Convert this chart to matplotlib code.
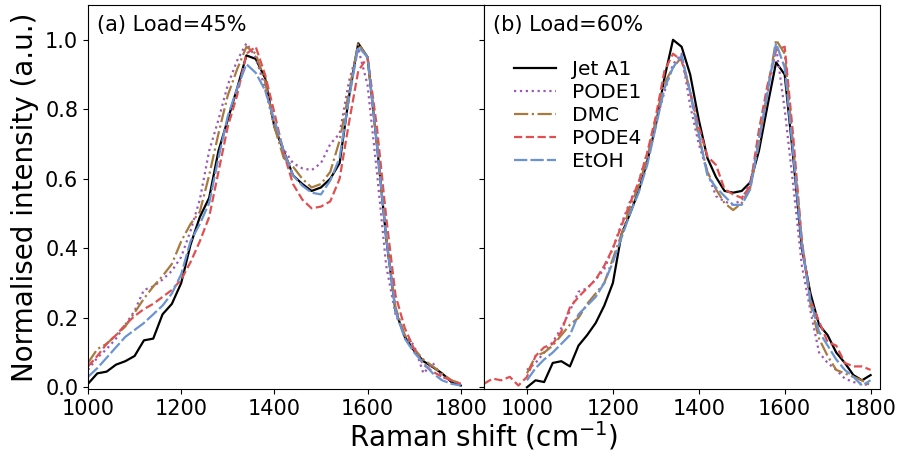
import matplotlib
matplotlib.use("Agg")
import matplotlib.pyplot as plt
import numpy as np

# Raman shift grid (cm^-1)
shift = np.arange(1000, 1801, 20)
shift_pode4_b = np.arange(900, 1801, 20)

# (a) Load = 45 %
jet_a = [0.01, 0.04, 0.045, 0.065, 0.075, 0.09, 0.135, 0.14, 0.21, 0.24, 0.30,
         0.41, 0.49, 0.545, 0.68, 0.77, 0.86, 0.955, 0.945, 0.89, 0.75, 0.68,
         0.61, 0.585, 0.565, 0.575, 0.60, 0.645, 0.835, 0.99, 0.95, 0.70, 0.43,
         0.22, 0.145, 0.105, 0.075, 0.058, 0.04, 0.015, 0.005]
pode1_a = [0.05, 0.085, 0.11, 0.14, 0.18, 0.22, 0.28, 0.29, 0.31, 0.335, 0.375,
           0.45, 0.54, 0.68, 0.77, 0.87, 0.94, 0.99, 0.95, 0.86, 0.75, 0.685,
           0.645, 0.63, 0.625, 0.645, 0.70, 0.73, 0.88, 0.975, 0.87, 0.62, 0.35,
           0.21, 0.15, 0.12, 0.04, 0.07, 0.03, 0.02, 0.01]
dmc_a = [0.07, 0.11, 0.125, 0.15, 0.175, 0.215, 0.255, 0.29, 0.32, 0.355, 0.42,
         0.47, 0.505, 0.61, 0.73, 0.84, 0.915, 0.98, 0.96, 0.88, 0.75, 0.66,
         0.635, 0.60, 0.575, 0.585, 0.62, 0.71, 0.85, 0.99, 0.95, 0.70, 0.43,
         0.23, 0.15, 0.11, 0.08, 0.06, 0.04, 0.02, 0.01]
pode4_a = [0.06, 0.09, 0.125, 0.15, 0.18, 0.205, 0.225, 0.24, 0.26, 0.28, 0.31,
           0.36, 0.42, 0.49, 0.62, 0.75, 0.84, 0.96, 0.98, 0.90, 0.79, 0.675,
           0.585, 0.54, 0.515, 0.52, 0.535, 0.60, 0.76, 0.91, 0.95, 0.75, 0.49,
           0.265, 0.17, 0.11, 0.065, 0.045, 0.03, 0.02, 0.01]
etoh_a = [0.03, 0.055, 0.085, 0.115, 0.145, 0.165, 0.185, 0.21, 0.235, 0.27, 0.325,
          0.42, 0.47, 0.53, 0.66, 0.78, 0.86, 0.93, 0.905, 0.855, 0.77, 0.68,
          0.61, 0.58, 0.56, 0.555, 0.595, 0.66, 0.83, 0.98, 0.95, 0.70, 0.43,
          0.22, 0.14, 0.10, 0.07, 0.04, 0.02, 0.01, 0.005]

# (b) Load = 60 %
jet_b = [0.0, 0.02, 0.015, 0.07, 0.075, 0.06, 0.12, 0.15, 0.185, 0.235, 0.30,
         0.44, 0.50, 0.565, 0.65, 0.755, 0.89, 1.0, 0.98, 0.90, 0.77, 0.66,
         0.605, 0.565, 0.56, 0.565, 0.59, 0.68, 0.81, 0.935, 0.90, 0.66, 0.40,
         0.27, 0.18, 0.15, 0.10, 0.07, 0.035, 0.02, 0.035]
pode1_b = [0.05, 0.07, 0.10, 0.13, 0.17, 0.22, 0.275, 0.285, 0.31, 0.34, 0.40,
           0.47, 0.535, 0.59, 0.675, 0.76, 0.85, 0.93, 0.96, 0.81, 0.70, 0.62,
           0.55, 0.535, 0.525, 0.54, 0.59, 0.71, 0.84, 0.98, 0.80, 0.58, 0.35,
           0.22, 0.10, 0.07, 0.05, 0.025, 0.015, 0.01, 0.005]
dmc_b = [0.04, 0.09, 0.10, 0.12, 0.15, 0.18, 0.20, 0.24, 0.27, 0.30, 0.37,
         0.44, 0.52, 0.58, 0.66, 0.77, 0.875, 0.92, 0.95, 0.85, 0.72, 0.62,
         0.57, 0.53, 0.51, 0.53, 0.575, 0.70, 0.85, 1.0, 0.96, 0.69, 0.42,
         0.24, 0.14, 0.09, 0.05, 0.04, 0.03, 0.02, 0.005]
pode4_b = [0.01, 0.025, 0.02, 0.03, 0.005,
           0.03, 0.09, 0.115, 0.125, 0.16, 0.23, 0.26, 0.285, 0.31, 0.35, 0.40,
           0.465, 0.53, 0.59, 0.675, 0.78, 0.91, 0.96, 0.94, 0.85, 0.75, 0.665,
           0.64, 0.57, 0.555, 0.545, 0.58, 0.74, 0.87, 0.97, 0.98, 0.72, 0.42,
           0.25, 0.19, 0.13, 0.12, 0.07, 0.06, 0.06, 0.05]
etoh_b = [0.02, 0.055, 0.08, 0.10, 0.125, 0.15, 0.21, 0.235, 0.26, 0.30, 0.36,
          0.43, 0.50, 0.56, 0.64, 0.75, 0.86, 0.92, 0.955, 0.85, 0.73, 0.61,
          0.575, 0.55, 0.525, 0.525, 0.57, 0.71, 0.85, 0.99, 0.92, 0.67, 0.41,
          0.25, 0.16, 0.12, 0.08, 0.05, 0.03, 0.005, 0.02]

labels = ["Jet A1", "PODE1", "DMC", "PODE4", "EtOH"]
colors = ["black", "#9b59b6", "#a87a3e", "#e05050", "#6a93d2"]
styles = ["-", ":", "-.", "--", (0, (6, 1.4))]

fig = plt.figure(figsize=(8.99, 4.59), dpi=100)
ax_a = fig.add_axes([0.0979, 0.1525, 0.4405, 0.8365])
ax_b = fig.add_axes([0.5384, 0.1525, 0.4405, 0.8365], sharey=ax_a)

series_a = [jet_a, pode1_a, dmc_a, pode4_a, etoh_a]
series_b = [jet_b, pode1_b, dmc_b, pode4_b, etoh_b]
x_b = [shift, shift, shift, shift_pode4_b, shift]

for ys, c, ls, lab in zip(series_a, colors, styles, labels):
    ax_a.plot(shift, ys, color=c, linestyle=ls, lw=1.6, label=lab)
for xs, ys, c, ls, lab in zip(x_b, series_b, colors, styles, labels):
    ax_b.plot(xs, ys, color=c, linestyle=ls, lw=1.6, label=lab)

ax_a.set_xlim(1000, 1850)
ax_b.set_xlim(900, 1822)
ax_a.set_ylim(-0.005, 1.1)
ax_a.set_xticks([1000, 1200, 1400, 1600, 1800])
ax_b.set_xticks([1000, 1200, 1400, 1600, 1800])
ax_a.set_yticks([0.0, 0.2, 0.4, 0.6, 0.8, 1.0])
ax_b.tick_params(labelleft=False)
for ax in (ax_a, ax_b):
    ax.tick_params(labelsize=15)

ax_a.text(0.023, 0.975, "(a) Load=45%", transform=ax_a.transAxes,
          fontsize=15, va="top", ha="left")
ax_b.text(0.023, 0.975, "(b) Load=60%", transform=ax_b.transAxes,
          fontsize=15, va="top", ha="left")

ax_a.set_ylabel("Normalised intensity (a.u.)", fontsize=20)
fig.text(484 / 899, 0.015, "Raman shift (cm$^{-1}$)", fontsize=20,
         ha="center", va="bottom")

ax_b.legend(loc="upper left", bbox_to_anchor=(0.03, 0.905), frameon=False,
            fontsize=14.5, handlelength=2.1, labelspacing=0.2)

fig.savefig("out.png", dpi=100)
